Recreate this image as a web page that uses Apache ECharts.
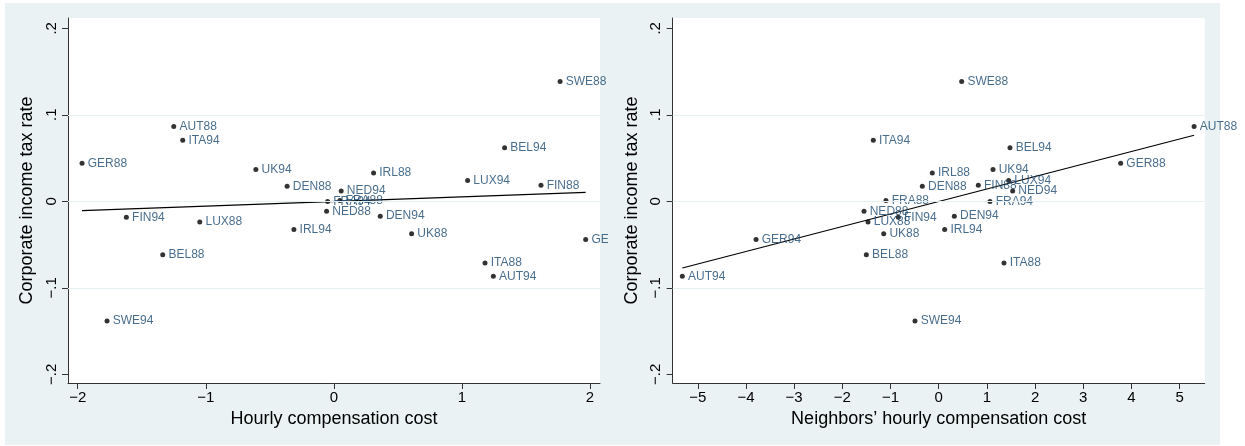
<!DOCTYPE html>
<html>
<head>
<meta charset="utf-8">
<script src="https://cdn.jsdelivr.net/npm/echarts@6/dist/echarts.min.js"></script>
<style>
  html, body { margin: 0; padding: 0; background: #ffffff; }
  #stage { position: relative; width: 1245px; height: 446px; overflow: hidden; }
  #backdrop { position: absolute; left: 5px; top: 3px; width: 1215px; height: 442px; background: #eaf2f3; }
  #left { position: absolute; left: 0; top: 0; width: 608px; height: 446px; }
  #right { position: absolute; left: 608px; top: 0; width: 637px; height: 446px; }
</style>
</head>
<body>
<div id="stage">
  <div id="backdrop"></div>
  <div id="left"></div>
  <div id="right"></div>
</div>
<script>
// Country-year observations (deviations from country means)
const countries = ['AUT88','AUT94','BEL88','BEL94','DEN88','DEN94','FIN88','FIN94',
  'FRA88','FRA94','GER88','GER94','IRL88','IRL94','ITA88','ITA94',
  'LUX88','LUX94','NED88','NED94','SWE88','SWE94','UK88','UK94'];
const taxRate = [0.0865,-0.0867,-0.0617,0.0620,0.0173,-0.0172,0.0185,-0.0185,
  0.0008,-0.0004,0.0439,-0.0443,0.0327,-0.0327,-0.0713,0.0705,
  -0.0239,0.0239,-0.0116,0.0118,0.1386,-0.1384,-0.0374,0.0368];
const hourlyCost = [-1.250,1.245,-1.336,1.333,-0.365,0.362,1.617,-1.620,
  0.047,-0.049,-1.966,1.966,0.310,-0.312,1.180,-1.180,
  -1.047,1.044,-0.057,0.057,1.766,-1.771,0.607,-0.609];
const neighborsCost = [5.300,-5.320,-1.502,1.479,-0.340,0.324,0.822,-0.838,
  -1.095,1.064,3.776,-3.790,-0.133,0.124,1.355,-1.357,
  -1.467,1.452,-1.550,1.535,0.477,-0.492,-1.141,1.127];

// Fitted regression lines (endpoints at the observed x range)
const hourlyFit = [[-1.966,-0.0108],[1.966,0.0104]];
const neighborsFit = [[-5.32,-0.0771],[5.30,0.0763]];

// Axis ticks
const rateTicks = [-0.2,-0.1,0,0.1,0.2];
const rateGridLines = [-0.1,0,0.1];
const hourlyTicks = [-2,-1,0,1,2];
const neighborsTicks = [-5,-4,-3,-2,-1,0,1,2,3,4,5];

const FONT = "'Liberation Sans', Arial, sans-serif";
const MINUS = '\u2212';

function rateLabel(v) {
  if (Math.abs(v) < 1e-9) return '0';
  const s = String(Math.round(Math.abs(v) * 10) / 10).replace(/^0/, '');
  return (v < 0 ? MINUS : '') + s;
}
function costLabel(v) {
  if (Math.abs(v) < 1e-9) return '0';
  return (v < 0 ? MINUS : '') + String(Math.abs(v));
}

function buildOption(xs, xTicks, xName, fit, gridLeft, xMin, xMax) {
  const points = countries.map((c, i) => ({ name: c, value: [xs[i], taxRate[i]] }));
  return {
    animation: false,
    backgroundColor: 'transparent',
    textStyle: { fontFamily: FONT },
    grid: {
      left: gridLeft, top: 18, width: 532, height: 365,
      show: true, backgroundColor: '#ffffff', borderWidth: 0
    },
    xAxis: {
      type: 'value', min: xMin, max: xMax,
      name: xName, nameLocation: 'middle', nameGap: 24,
      nameTextStyle: { fontFamily: FONT, fontSize: 18, color: '#000' },
      axisLine: { show: true, onZero: false, lineStyle: { color: '#333', width: 1 } },
      axisTick: { show: true, length: 6, customValues: xTicks, lineStyle: { color: '#333' } },
      axisLabel: { customValues: xTicks, formatter: costLabel, fontFamily: FONT, fontSize: 15, color: '#000', margin: 7 },
      splitLine: { show: false }
    },
    yAxis: {
      type: 'value', min: -0.2101, max: 0.2119,
      name: 'Corporate income tax rate', nameLocation: 'middle', nameGap: 25,
      nameTextStyle: { fontFamily: FONT, fontSize: 18, color: '#000' },
      axisLine: { show: true, onZero: false, lineStyle: { color: '#333', width: 1 } },
      axisTick: { show: true, length: 6, customValues: rateTicks, lineStyle: { color: '#333' } },
      axisLabel: { customValues: rateTicks, formatter: rateLabel, rotate: 90, fontFamily: FONT, fontSize: 15, color: '#000', margin: 9 },
      splitLine: { show: false }
    },
    series: [
      {
        type: 'line', data: [], z: 1, silent: true,
        markLine: {
          silent: true, symbol: ['none', 'none'], label: { show: false },
          lineStyle: { color: '#e6eff1', width: 1, type: 'solid' },
          data: rateGridLines.map(v => ({ yAxis: v }))
        }
      },
      {
        type: 'line', data: fit, z: 2, symbol: 'none', silent: true,
        lineStyle: { color: '#000', width: 1.2 }
      },
      {
        type: 'scatter', data: points, z: 3, symbol: 'circle', symbolSize: 5,
        itemStyle: { color: '#000' },
        label: {
          show: true, position: 'right', distance: 3.2,
          formatter: p => p.name,
          fontFamily: FONT, fontSize: 12, color: '#1a476f'
        }
      }
    ]
  };
}

const leftChart = echarts.init(document.getElementById('left'), null, { renderer: 'canvas' });
leftChart.setOption(buildOption(hourlyCost, hourlyTicks, 'Hourly compensation cost',
  hourlyFit, 68, -2.0757, 2.0778));

const rightChart = echarts.init(document.getElementById('right'), null, { renderer: 'canvas' });
rightChart.setOption(buildOption(neighborsCost, neighborsTicks, 'Neighbors\u2019 hourly compensation cost',
  neighborsFit, 64.7, -5.52, 5.52));
</script>
</body>
</html>
